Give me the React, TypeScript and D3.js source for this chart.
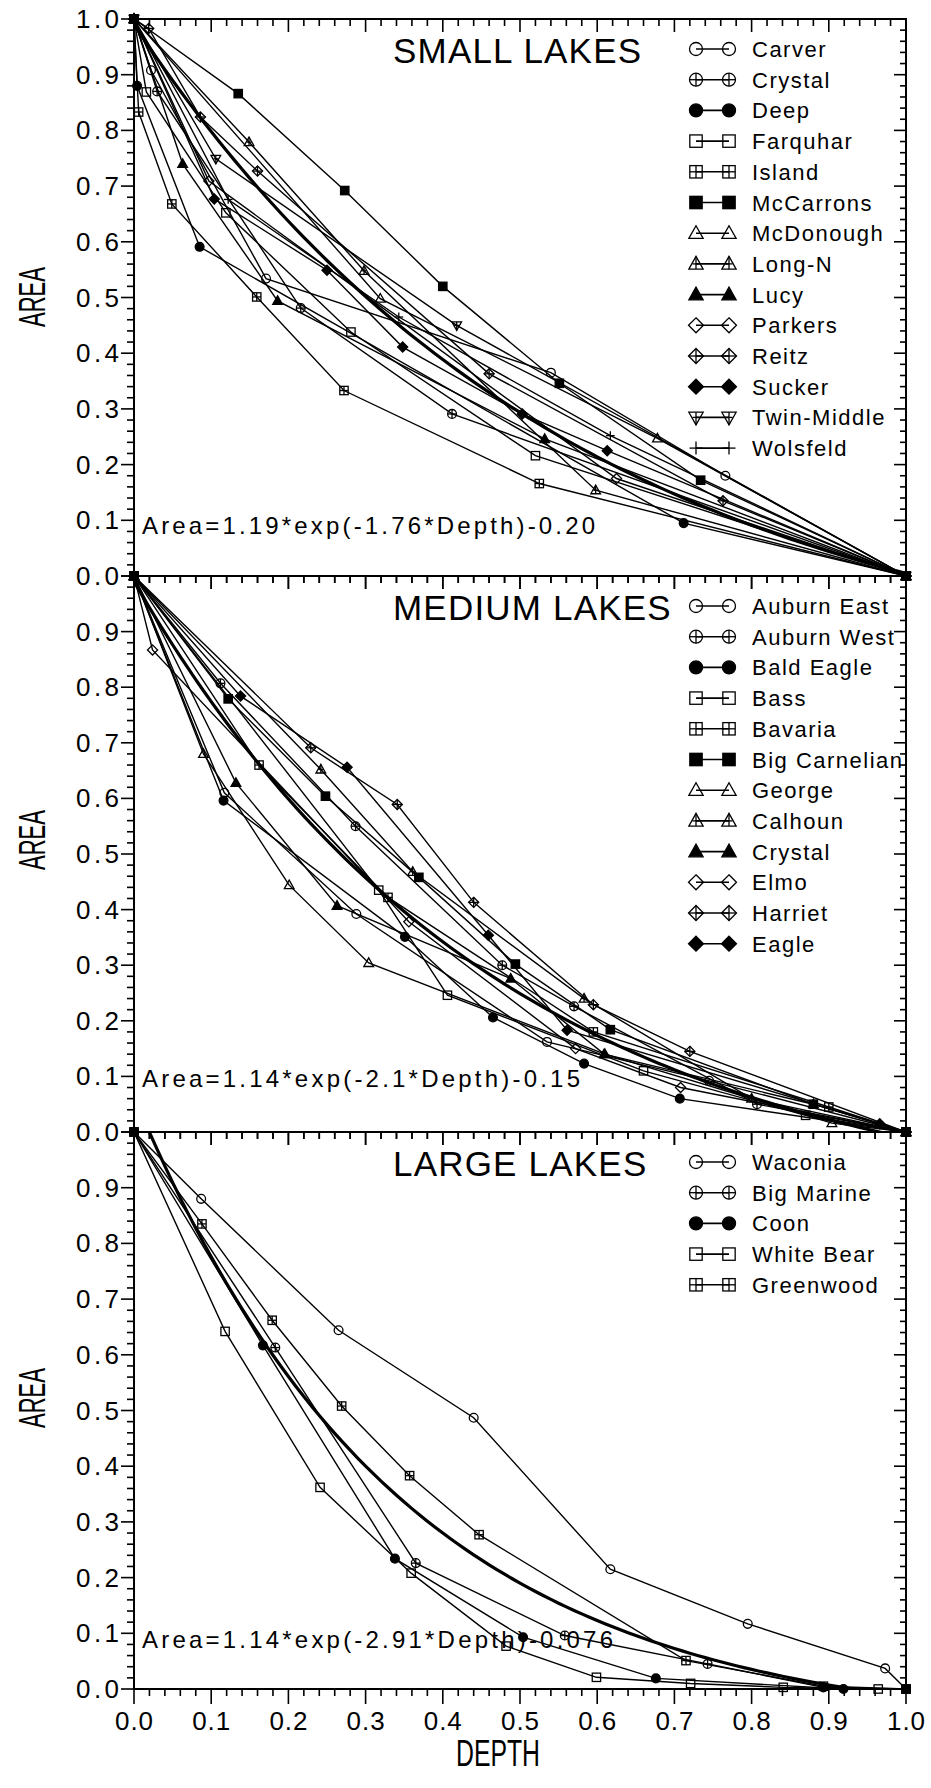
import React from "react";
import * as d3 from "d3";

type Pt = [number, number];

const FONT = "'Liberation Sans', Arial, Helvetica, sans-serif";

// ---------------- SMALL LAKES (depth, area) ----------------
const smallLakeNames = ["Carver", "Crystal", "Deep", "Farquhar", "Island", "McCarrons", "McDonough", "Long-N", "Lucy", "Parkers", "Reitz", "Sucker", "Twin-Middle", "Wolsfeld"];
const smallLakeSymbols = ["circle", "circleCross", "circleFill", "square", "squareCross", "squareFill", "triangle", "triangleCross", "triangleFill", "diamond", "diamondCross", "diamondFill", "triDownCross", "plus"];
const carver: Pt[] = [[0, 1], [0.022, 0.908], [0.171, 0.534], [0.54, 0.365], [0.766, 0.18], [1, 0]];
const crystalS: Pt[] = [[0, 1], [0.03, 0.87], [0.216, 0.481], [0.412, 0.291], [1, 0]];
const deep: Pt[] = [[0, 1], [0.004, 0.88], [0.085, 0.591], [0.712, 0.095], [1, 0]];
const farquhar: Pt[] = [[0, 1], [0.016, 0.869], [0.119, 0.652], [0.281, 0.438], [0.52, 0.216], [1, 0]];
const island: Pt[] = [[0, 1], [0.006, 0.833], [0.049, 0.668], [0.159, 0.501], [0.272, 0.333], [0.525, 0.166], [1, 0]];
const mccarrons: Pt[] = [[0, 1], [0.135, 0.866], [0.273, 0.692], [0.4, 0.52], [0.551, 0.346], [0.734, 0.172], [1, 0]];
const mcdonough: Pt[] = [[0, 1], [0.319, 0.498], [0.678, 0.247], [1, 0]];
const longN: Pt[] = [[0, 1], [0.149, 0.779], [0.298, 0.548], [0.598, 0.154], [1, 0]];
const lucy: Pt[] = [[0, 1], [0.063, 0.74], [0.186, 0.494], [0.532, 0.246], [1, 0]];
const parkers: Pt[] = [[0, 1], [0.097, 0.709], [0.625, 0.175], [1, 0]];
const reitz: Pt[] = [[0, 1], [0.019, 0.983], [0.086, 0.824], [0.16, 0.727], [0.46, 0.363], [0.763, 0.135], [1, 0]];
const sucker: Pt[] = [[0, 1], [0.104, 0.677], [0.25, 0.549], [0.348, 0.411], [0.503, 0.291], [0.613, 0.225], [1, 0]];
const twinMiddle: Pt[] = [[0, 1], [0.106, 0.749], [0.418, 0.45], [1, 0]];
const wolsfeld: Pt[] = [[0, 1], [0.122, 0.676], [0.343, 0.465], [0.617, 0.252], [1, 0]];
const smallLakeSeries = [carver, crystalS, deep, farquhar, island, mccarrons, mcdonough, longN, lucy, parkers, reitz, sucker, twinMiddle, wolsfeld];

// ---------------- MEDIUM LAKES ----------------
const mediumLakeNames = ["Auburn East", "Auburn West", "Bald Eagle", "Bass", "Bavaria", "Big Carnelian", "George", "Calhoun", "Crystal", "Elmo", "Harriet", "Eagle"];
const mediumLakeSymbols = ["circle", "circleCross", "circleFill", "square", "squareCross", "squareFill", "triangle", "triangleCross", "triangleFill", "diamond", "diamondCross", "diamondFill"];
const auburnEast: Pt[] = [[0, 1], [0.117, 0.61], [0.288, 0.392], [0.535, 0.162], [0.745, 0.092], [1, 0]];
const auburnWest: Pt[] = [[0, 1], [0.112, 0.807], [0.287, 0.55], [0.477, 0.3], [0.57, 0.226], [0.807, 0.05], [1, 0]];
const baldEagle: Pt[] = [[0, 1], [0.116, 0.596], [0.351, 0.351], [0.465, 0.206], [0.583, 0.123], [0.707, 0.06], [1, 0]];
const bass: Pt[] = [[0, 1], [0.317, 0.435], [0.406, 0.246], [0.66, 0.11], [0.87, 0.03], [1, 0]];
const bavaria: Pt[] = [[0, 1], [0.162, 0.66], [0.329, 0.422], [0.595, 0.18], [0.9, 0.045], [1, 0]];
const bigCarnelian: Pt[] = [[0, 1], [0.122, 0.779], [0.248, 0.604], [0.369, 0.458], [0.494, 0.302], [0.617, 0.184], [0.88, 0.05], [1, 0]];
const george: Pt[] = [[0, 1], [0.09, 0.68], [0.201, 0.444], [0.304, 0.304], [0.61, 0.14], [0.904, 0.016], [1, 0]];
const calhoun: Pt[] = [[0, 1], [0.242, 0.652], [0.361, 0.468], [0.583, 0.24], [0.8, 0.06], [1, 0]];
const crystalM: Pt[] = [[0, 1], [0.132, 0.628], [0.263, 0.407], [0.488, 0.276], [0.609, 0.14], [0.88, 0.05], [1, 0]];
const elmo: Pt[] = [[0, 1], [0.024, 0.867], [0.356, 0.378], [0.572, 0.15], [0.708, 0.08], [1, 0]];
const harriet: Pt[] = [[0, 1], [0.229, 0.691], [0.341, 0.589], [0.44, 0.413], [0.595, 0.229], [0.72, 0.145], [1, 0]];
const eagle: Pt[] = [[0, 1], [0.138, 0.784], [0.276, 0.656], [0.459, 0.354], [0.561, 0.183], [0.966, 0.015], [1, 0]];
const mediumLakeSeries = [auburnEast, auburnWest, baldEagle, bass, bavaria, bigCarnelian, george, calhoun, crystalM, elmo, harriet, eagle];

// ---------------- LARGE LAKES ----------------
const largeLakeNames = ["Waconia", "Big Marine", "Coon", "White Bear", "Greenwood"];
const largeLakeSymbols = ["circle", "circleCross", "circleFill", "square", "squareCross"];
const waconia: Pt[] = [[0, 1], [0.087, 0.88], [0.265, 0.644], [0.44, 0.487], [0.617, 0.215], [0.795, 0.117], [0.973, 0.037], [1, 0]];
const bigMarine: Pt[] = [[0, 1], [0.183, 0.613], [0.365, 0.226], [0.558, 0.096], [0.743, 0.045], [0.893, 0.003], [1, 0]];
const coon: Pt[] = [[0, 1], [0.167, 0.617], [0.338, 0.234], [0.504, 0.093], [0.676, 0.019], [0.919, 0.0], [1, 0]];
const whiteBear: Pt[] = [[0, 1], [0.118, 0.642], [0.241, 0.362], [0.359, 0.208], [0.482, 0.077], [0.599, 0.021], [0.721, 0.01], [0.841, 0.003], [0.964, 0.0], [1, 0]];
const greenwood: Pt[] = [[0, 1], [0.088, 0.835], [0.179, 0.662], [0.269, 0.508], [0.357, 0.383], [0.447, 0.277], [0.715, 0.051], [0.893, 0.005], [1, 0]];
const largeLakeSeries = [waconia, bigMarine, coon, whiteBear, greenwood];

// ---------------- fits, titles, ticks ----------------
const fitCoefA = [1.19, 1.14, 1.14];
const fitCoefB = [1.76, 2.1, 2.91];
const fitCoefC = [0.2, 0.15, 0.076];
const fitLabels = ["Area=1.19*exp(-1.76*Depth)-0.20", "Area=1.14*exp(-2.1*Depth)-0.15", "Area=1.14*exp(-2.91*Depth)-0.076"];
const panelTitles = ["SMALL LAKES", "MEDIUM LAKES", "LARGE LAKES"];
const xTickLabels = ["0.0", "0.1", "0.2", "0.3", "0.4", "0.5", "0.6", "0.7", "0.8", "0.9", "1.0"];
const yTickLabelsTop = ["0.0", "0.1", "0.2", "0.3", "0.4", "0.5", "0.6", "0.7", "0.8", "0.9", "1.0"];
const yTickLabelsOther = ["0.0", "0.1", "0.2", "0.3", "0.4", "0.5", "0.6", "0.7", "0.8", "0.9"];

// ---------------- layout ----------------
const W = 931;
const H = 1788;
const X0 = 134;
const X1 = 906;
const panelTop = [19, 576, 1132];
const panelBottom = [576, 1132, 1689];
const eqBaseline = [534, 1087, 1648];
const eqWidth = [453, 438, 471];
const areaLabelY = [297, 840, 1398];

const xs = d3.scaleLinear().domain([0, 1]).range([X0, X1]);
const minorTicks = d3.range(0, 51).map((i) => i / 50);

function Marker({ type, x, y, s }: { type: string; x: number; y: number; s: number }) {
  const st = { stroke: "#000", strokeWidth: 1.3 };
  const tri = (dir: number) =>
    `M${x},${y - dir * s * 1.15} L${x + s * 1.1},${y + dir * s * 0.8} L${x - s * 1.1},${y + dir * s * 0.8} Z`;
  const dia = `M${x},${y - s * 1.15} L${x + s * 1.15},${y} L${x},${y + s * 1.15} L${x - s * 1.15},${y} Z`;
  const cross = (
    <>
      <line x1={x - s} x2={x + s} y1={y} y2={y} {...st} />
      <line x1={x} x2={x} y1={y - s} y2={y + s} {...st} />
    </>
  );
  switch (type) {
    case "circle":
      return <circle cx={x} cy={y} r={s} fill="none" {...st} />;
    case "circleCross":
      return (
        <g>
          <circle cx={x} cy={y} r={s} fill="none" {...st} />
          {cross}
        </g>
      );
    case "circleFill":
      return <circle cx={x} cy={y} r={s} fill="#000" {...st} />;
    case "square":
      return <rect x={x - s * 0.95} y={y - s * 0.95} width={s * 1.9} height={s * 1.9} fill="none" {...st} />;
    case "squareCross":
      return (
        <g>
          <rect x={x - s * 0.95} y={y - s * 0.95} width={s * 1.9} height={s * 1.9} fill="none" {...st} />
          <line x1={x - s * 0.95} x2={x + s * 0.95} y1={y} y2={y} {...st} />
          <line x1={x} x2={x} y1={y - s * 0.95} y2={y + s * 0.95} {...st} />
        </g>
      );
    case "squareFill":
      return <rect x={x - s * 0.95} y={y - s * 0.95} width={s * 1.9} height={s * 1.9} fill="#000" {...st} />;
    case "triangle":
      return <path d={tri(1)} fill="none" {...st} />;
    case "triangleCross":
      return (
        <g>
          <path d={tri(1)} fill="none" {...st} />
          <line x1={x} x2={x} y1={y - s * 1.15} y2={y + s * 0.8} {...st} />
          <line x1={x - s * 0.55} x2={x + s * 0.55} y1={y} y2={y} {...st} />
        </g>
      );
    case "triangleFill":
      return <path d={tri(1)} fill="#000" {...st} />;
    case "triDownCross":
      return (
        <g>
          <path d={tri(-1)} fill="none" {...st} />
          <line x1={x} x2={x} y1={y - s * 0.8} y2={y + s * 1.15} {...st} />
          <line x1={x - s * 0.55} x2={x + s * 0.55} y1={y} y2={y} {...st} />
        </g>
      );
    case "diamond":
      return <path d={dia} fill="none" {...st} />;
    case "diamondCross":
      return (
        <g>
          <path d={dia} fill="none" {...st} />
          <line x1={x - s * 1.15} x2={x + s * 1.15} y1={y} y2={y} {...st} />
          <line x1={x} x2={x} y1={y - s * 1.15} y2={y + s * 1.15} {...st} />
        </g>
      );
    case "diamondFill":
      return <path d={dia} fill="#000" {...st} />;
    case "plus":
      return cross;
    default:
      return null;
  }
}

function Panel({ idx, names, symbols, series }: { idx: number; names: string[]; symbols: string[]; series: Pt[][] }) {
  const top = panelTop[idx];
  const bottom = panelBottom[idx];
  const ys = d3.scaleLinear().domain([0, 1]).range([bottom, top]);
  const line = d3
    .line<Pt>()
    .x((d) => xs(d[0]))
    .y((d) => ys(d[1]));
  const fitData: Pt[] = d3.range(0, 101).map((i) => {
    const dep = i / 100;
    return [dep, fitCoefA[idx] * Math.exp(-fitCoefB[idx] * dep) - fitCoefC[idx]];
  });
  const yLabels = idx === 0 ? yTickLabelsTop : yTickLabelsOther;
  const clipId = `clip-${idx}`;
  const isBottom = idx === 2;
  return (
    <g>
      <defs>
        <clipPath id={clipId}>
          <rect x={X0} y={top} width={X1 - X0} height={bottom - top} />
        </clipPath>
      </defs>
      <g clipPath={`url(#${clipId})`}>
        {series.map((s, i) => (
          <path key={i} d={line(s) || ""} fill="none" stroke="#000" strokeWidth={1.4} />
        ))}
        <path d={line(fitData) || ""} fill="none" stroke="#000" strokeWidth={3.2} />
      </g>
      {series.map((s, i) => (
        <g key={i}>
          {s.map((p, j) => (
            <Marker key={j} type={symbols[i]} x={xs(p[0])} y={ys(p[1])} s={4.4} />
          ))}
        </g>
      ))}
      <rect x={X0} y={top} width={X1 - X0} height={bottom - top} fill="none" stroke="#000" strokeWidth={2} />
      {minorTicks.map((t, i) => {
        const major = i % 5 === 0;
        const yy = ys(t);
        const xx = xs(t);
        return (
          <g key={i} stroke="#000" strokeWidth={1.6}>
            <line x1={X0 - (major ? 13 : 7)} x2={X0} y1={yy} y2={yy} />
            <line x1={X1 - (major ? 12 : 6)} x2={X1} y1={yy} y2={yy} />
            <line x1={xx} x2={xx} y1={top} y2={top + (major ? 13 : 7)} />
            <line x1={xx} x2={xx} y1={bottom} y2={bottom + (major ? (isBottom ? 15 : 13) : 7)} />
          </g>
        );
      })}
      {yLabels.map((lab) => (
        <text
          key={lab}
          x={119}
          y={ys(+lab) + 9}
          textAnchor="end"
          fontFamily={FONT}
          fontSize={26}
          textLength={43}
          lengthAdjust="spacing"
        >
          {lab}
        </text>
      ))}
      <text
        transform={`translate(45,${areaLabelY[idx]}) rotate(-90)`}
        textAnchor="middle"
        fontFamily={FONT}
        fontSize={36}
        textLength={60}
        lengthAdjust="spacingAndGlyphs"
      >
        AREA
      </text>
      <text x={393} y={top + 44} fontFamily={FONT} fontSize={35} letterSpacing={1.2}>
        {panelTitles[idx]}
      </text>
      <text x={142} y={eqBaseline[idx]} fontFamily={FONT} fontSize={24} textLength={eqWidth[idx]} lengthAdjust="spacing">
        {fitLabels[idx]}
      </text>
      {names.map((n, i) => {
        const cy = top + 30 + i * 30.7;
        return (
          <g key={n}>
            <line x1={696} x2={729} y1={cy} y2={cy} stroke="#000" strokeWidth={1.6} />
            <Marker type={symbols[i]} x={696} y={cy} s={6.5} />
            <Marker type={symbols[i]} x={729} y={cy} s={6.5} />
            <text x={752} y={cy + 8} fontFamily={FONT} fontSize={22} letterSpacing={1.5}>
              {n}
            </text>
          </g>
        );
      })}
      {isBottom &&
        xTickLabels.map((lab) => (
          <text
            key={lab}
            x={xs(+lab)}
            y={1730}
            textAnchor="middle"
            fontFamily={FONT}
            fontSize={26}
            textLength={38}
            lengthAdjust="spacing"
          >
            {lab}
          </text>
        ))}
    </g>
  );
}

export default function App() {
  return (
    <svg
      width={W}
      height={H}
      viewBox={`0 0 ${W} ${H}`}
      style={{ position: "absolute", left: 0, top: 0, background: "#fff" }}
    >
      <rect x={0} y={0} width={W} height={H} fill="#fff" />
      <Panel idx={0} names={smallLakeNames} symbols={smallLakeSymbols} series={smallLakeSeries} />
      <Panel idx={1} names={mediumLakeNames} symbols={mediumLakeSymbols} series={mediumLakeSeries} />
      <Panel idx={2} names={largeLakeNames} symbols={largeLakeSymbols} series={largeLakeSeries} />
      <text x={498} y={1766} textAnchor="middle" fontFamily={FONT} fontSize={36} textLength={84} lengthAdjust="spacingAndGlyphs">
        DEPTH
      </text>
    </svg>
  );
}
